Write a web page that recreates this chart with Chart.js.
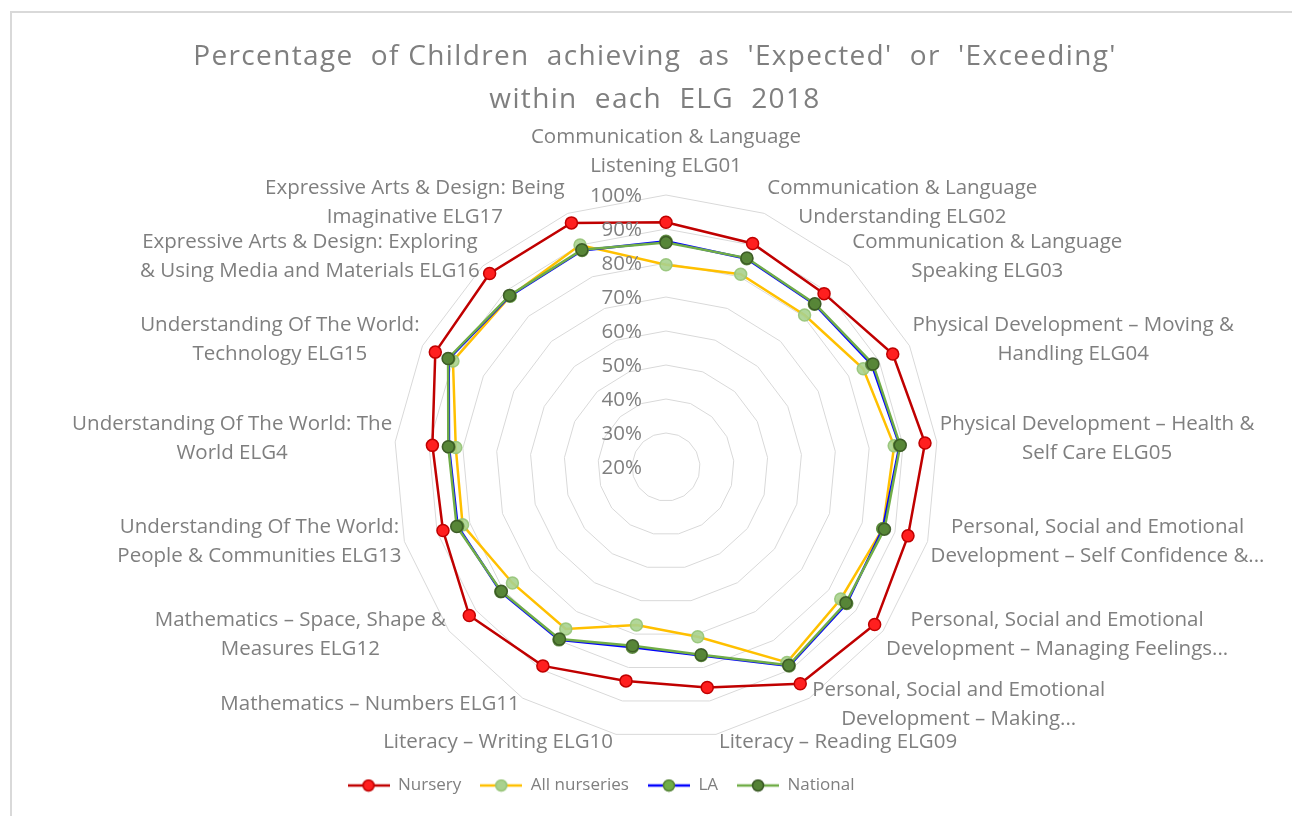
<!DOCTYPE html>
<html>
<head>
<meta charset="utf-8">
<script src="https://cdn.jsdelivr.net/npm/chart.js@4.4.0/dist/chart.umd.min.js"></script>
<style>
  html, body { margin: 0; padding: 0; background: #fff; overflow: hidden; }
  #frame { position: absolute; left: 10px; top: 11px; width: 1400px; height: 900px; border: 2px solid #d9d9d9; }
  #wrap { position: absolute; left: 0; top: 0; width: 1292px; height: 816px; }
</style>
</head>
<body>
<div id="frame"></div>
<div id="wrap"><canvas id="myChart"></canvas></div>
<script>
// ---------------- data ----------------
const titleLines = ["Percentage  of Children  achieving  as  'Expected'  or  'Exceeding'", 'within  each  ELG  2018'];

const categories = [
    ['Communication & Language', 'Listening ELG01'],
    ['Communication & Language', 'Understanding ELG02'],
    ['Communication & Language', 'Speaking ELG03'],
    ['Physical Development \u2013 Moving &', 'Handling ELG04'],
    ['Physical Development \u2013 Health &', 'Self Care ELG05'],
    ['Personal, Social and Emotional', 'Development \u2013 Self Confidence &...'],
    ['Personal, Social and Emotional', 'Development \u2013 Managing Feelings...'],
    ['Personal, Social and Emotional', 'Development \u2013 Making...'],
    ['Literacy \u2013 Reading ELG09'],
    ['Literacy \u2013 Writing ELG10'],
    ['Mathematics \u2013 Numbers ELG11'],
    ['Mathematics \u2013 Space, Shape &', 'Measures ELG12'],
    ['Understanding Of The World:', 'People & Communities ELG13'],
    ['Understanding Of The World: The', 'World ELG4'],
    ['Understanding Of The World:', 'Technology ELG15'],
    ['Expressive Arts & Design: Exploring', '& Using Media and Materials ELG16'],
    ['Expressive Arts & Design: Being', 'Imaginative ELG17'],
];

const nursery      = [92, 90.5, 89, 94.5, 96.5, 94, 96.9, 95, 86, 84, 88.8, 92.5, 88.2, 89, 95.8, 97, 97];
const allNurseries = [79.5, 80.8, 80.5, 84.8, 87.4, 86.3, 84.4, 87.6, 70.8, 67.3, 76, 76.6, 82.2, 82.1, 90, 88, 90];
const la           = [86.4, 85.7, 84.8, 87.6, 89.0, 86.3, 86.6, 88.8, 76.4, 73.9, 79.8, 80.9, 83.7, 84.1, 91.4, 88.1, 88.3];
const national     = [86, 85.9, 85, 88, 89.2, 86.8, 86.3, 88.6, 76.2, 73.5, 79.5, 80.7, 84, 84.3, 91.6, 88.3, 88.5];

const tickValues = [20, 30, 40, 50, 60, 70, 80, 90, 100];
const tickLabels = ['20%', '30%', '40%', '50%', '60%', '70%', '80%', '90%', '100%'];

const FONT = 'Open Sans';
const TEXT = '#7f7f7f';

// little line + marker picture for the legend
function legendIcon(line, fill, border) {
    const c = document.createElement('canvas');
    c.width = 42;
    c.height = 14;
    const g = c.getContext('2d');
    g.strokeStyle = line;
    g.lineWidth = 2.5;
    g.beginPath();
    g.moveTo(0, 7);
    g.lineTo(42, 7);
    g.stroke();
    g.fillStyle = fill;
    g.strokeStyle = border;
    g.lineWidth = 1.5;
    g.beginPath();
    g.arc(21, 7, 5.5, 0, Math.PI * 2);
    g.fill();
    g.stroke();
    return c;
}

// title, point labels (each line centred) and tick labels left of the axis
const labelPlugin = {
    id: 'labelPlugin',
    afterDraw(chart) {
        const scale = chart.scales.r;
        const g = chart.ctx;
        g.save();
        g.fillStyle = TEXT;
        g.textBaseline = 'middle';
        g.textAlign = 'center';

        g.font = '28px "' + FONT + '"';
        g.letterSpacing = '1.35px';
        titleLines.forEach((t, j) => g.fillText(t, 655, 57 + j * 43));
        g.letterSpacing = '0px';

        const lh = 29;
        g.font = '20.5px "' + FONT + '"';
        categories.forEach((lines, i) => {
            const a = scale.getIndexAngle(i) - Math.PI / 2;
            const cos = Math.cos(a), sin = Math.sin(a);
            const v = scale.getPointPosition(i, scale.drawingArea);
            const w = Math.max(...lines.map(t => g.measureText(t).width));
            const h = lines.length * lh;
            let cx, cy;
            if (Math.abs(cos) < 0.05) {
                cx = v.x;
                cy = v.y - 14 - h / 2;
            } else {
                cx = cos > 0 ? v.x + 3 + w / 2 : v.x - 3 - w / 2;
                cy = v.y - 2 + 9.5 * sin;
            }
            lines.forEach((t, j) => g.fillText(t, cx, cy - h / 2 + lh * (j + 0.5)));
        });

        g.textAlign = 'right';
        tickValues.forEach((v, i) => {
            const d = scale.getDistanceFromCenterForValue(v);
            g.fillText(tickLabels[i], scale.xCenter - 24, scale.yCenter - d + 1);
        });
        g.restore();
    }
};

const ctx = document.getElementById('myChart');
const myChart = new Chart(ctx, {
    type: 'radar',
    data: {
        labels: categories,
        datasets: [{
            label: 'Nursery',
            data: nursery,
            borderColor: '#c00000',
            backgroundColor: '#ff1f1f',
            pointBackgroundColor: '#ff1f1f',
            pointBorderColor: '#c00000',
            fill: false,
            order: 3,
            legendIcon: legendIcon('#c00000', '#ff1f1f', '#c00000'),
        }, {
            label: 'All nurseries',
            data: allNurseries,
            borderColor: '#ffc000',
            backgroundColor: 'rgba(169, 209, 142, 0.9)',
            pointBackgroundColor: 'rgba(169, 209, 142, 0.9)',
            pointBorderColor: 'rgba(150, 196, 120, 0.9)',
            fill: false,
            order: 2,
            legendIcon: legendIcon('#ffc000', '#a9d18e', '#96c478'),
        }, {
            label: 'LA',
            data: la,
            borderColor: '#0000ff',
            backgroundColor: 'rgba(112, 173, 71, 0.9)',
            pointBackgroundColor: 'rgba(112, 173, 71, 0.9)',
            pointBorderColor: 'rgba(84, 130, 53, 0.9)',
            fill: false,
            order: 1,
            legendIcon: legendIcon('#0000ff', '#70ad47', '#548235'),
        }, {
            label: 'National',
            data: national,
            borderColor: '#70ad47',
            backgroundColor: 'rgba(84, 130, 53, 0.9)',
            pointBackgroundColor: 'rgba(84, 130, 53, 0.9)',
            pointBorderColor: 'rgba(56, 87, 35, 0.9)',
            fill: false,
            order: 0,
            legendIcon: legendIcon('#70ad47', '#548235', '#385723'),
        }]
    },
    options: {
        responsive: true,
        maintainAspectRatio: false,
        animation: false,
        devicePixelRatio: 1,
        elements: {
            line: { borderWidth: 2.5, tension: 0 },
            point: { radius: 6, borderWidth: 1.5, hoverRadius: 6 },
        },
        layout: {
            padding: { left: 0, right: 90, top: 0, bottom: 12 },
        },
        plugins: {
            title: { display: false },
            legend: {
                display: true,
                position: 'bottom',
                labels: {
                    usePointStyle: true,
                    pointStyleWidth: 42,
                    color: TEXT,
                    font: { family: FONT, size: 17 },
                    padding: 19,
                    sort: (a, b) => a.datasetIndex - b.datasetIndex,
                    generateLabels: (chart) => chart.data.datasets.map((ds, i) => ({
                        text: ds.label,
                        datasetIndex: i,
                        pointStyle: ds.legendIcon,
                        fontColor: TEXT,
                        hidden: false,
                        lineWidth: 0,
                        strokeStyle: 'rgba(0,0,0,0)',
                        fillStyle: 'rgba(0,0,0,0)',
                    })),
                },
            },
            tooltip: { enabled: false },
        },
        scales: {
            r: {
                min: 20,
                max: 100,
                ticks: { display: false, stepSize: 10 },
                grid: { color: '#d9d9d9', lineWidth: 1, circular: false },
                angleLines: { display: false },
                pointLabels: { display: false },
                // place the plot like the original sheet: centre and outer radius
                afterFit: (scale) => {
                    scale.xCenter = 666;
                    scale.yCenter = 467;
                    scale.drawingArea = 272;
                },
            },
        },
    },
    plugins: [labelPlugin]
});
</script>
</body>
</html>
